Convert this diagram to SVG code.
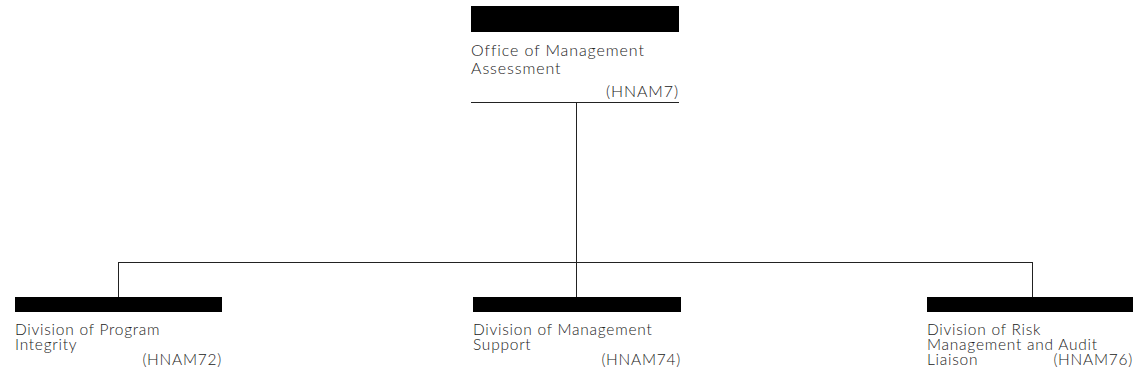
<svg xmlns="http://www.w3.org/2000/svg" width="1140" height="383" viewBox="0 0 1140 383">
<style>
.bar{fill:#000}
.t{font-family:Lato,"Liberation Sans",sans-serif;font-weight:300;font-size:15.5px;letter-spacing:0.75px;fill:#222}
.top{font-size:16px;letter-spacing:0.9px}
.r{text-anchor:end}
.c{stroke:#222;stroke-width:1;fill:none}
</style>
<rect width="1140" height="383" fill="#fff"/>
<g id="connectors">
<line class="c" x1="576.5" y1="102" x2="576.5" y2="297"/>
<line class="c" x1="118.5" y1="262.5" x2="1032.5" y2="262.5"/>
<line class="c" x1="118.5" y1="262" x2="118.5" y2="297"/>
<line class="c" x1="1032.5" y1="262" x2="1032.5" y2="297"/>
</g>
<g id="hnam7">
<rect class="bar" x="471" y="6" width="208" height="26"/>
<text class="t top" x="471" y="56">Office of Management</text>
<text class="t top" x="471" y="74">Assessment</text>
<text class="t top r" x="679" y="97">(HNAM7)</text>
<line class="c" x1="471" y1="102.5" x2="679" y2="102.5"/>
</g>
<g id="hnam72">
<rect class="bar" x="15" y="297" width="207" height="15"/>
<text class="t" x="15" y="335">Division of Program</text>
<text class="t" x="15" y="350">Integrity</text>
<text class="t r" x="222" y="365">(HNAM72)</text>
</g>
<g id="hnam74">
<rect class="bar" x="473" y="297" width="208" height="15"/>
<text class="t" x="473" y="335">Division of Management</text>
<text class="t" x="473" y="350">Support</text>
<text class="t r" x="681" y="365">(HNAM74)</text>
</g>
<g id="hnam76">
<rect class="bar" x="927" y="297" width="206" height="15"/>
<text class="t" x="927" y="335">Division of Risk</text>
<text class="t" x="927" y="350">Management and Audit</text>
<text class="t" x="927" y="365">Liaison</text>
<text class="t r" x="1133" y="365">(HNAM76)</text>
</g>
</svg>
